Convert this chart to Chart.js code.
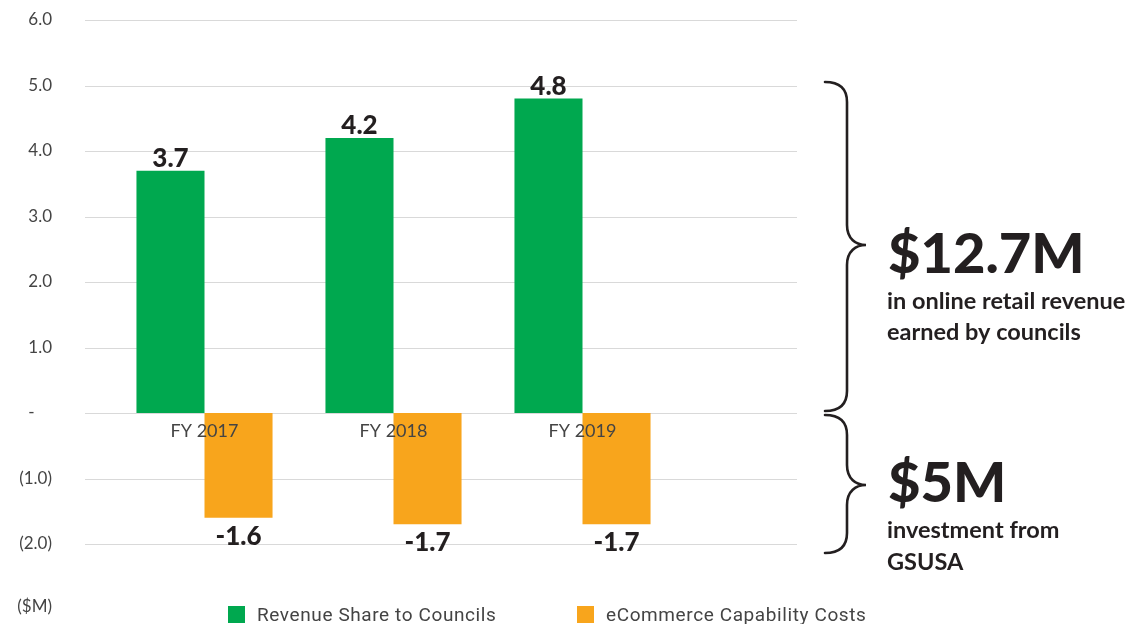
<!DOCTYPE html>
<html>
<head>
<meta charset="utf-8">
<script src="https://cdn.jsdelivr.net/npm/chart.js@4"></script>
<style>
  html, body { margin: 0; padding: 0; background: #fff; }
  #wrap { position: relative; width: 1132px; height: 624px; }
  .legend-item { position: absolute; top: 603px; display: flex; align-items: center;
    font-family: Roboto, sans-serif; font-size: 19px; letter-spacing: 0.6px; color: #444; white-space: nowrap; }
  .legend-box { width: 17px; height: 17px; margin-right: 12px; }
</style>
</head>
<body>
<div id="wrap">
  <canvas id="barChart" width="1132" height="624"></canvas>
  <div id="legend"></div>
</div>
<script>
const years = ['FY 2017', 'FY 2018', 'FY 2019'];
const revenueShare = [3.7, 4.2, 4.8];
const capabilityCosts = [-1.6, -1.7, -1.7];
const seriesNames = ['Revenue Share to Councils', 'eCommerce Capability Costs'];
const seriesColors = ['#00a84f', '#f8a51c'];
const legendLeft = [228, 577];

const ink = '#231f20';

// horizontal grid lines, a bit wider than the bar area like the original
const gridLines = {
  id: 'gridLines',
  beforeDatasetsDraw(chart) {
    const ctx = chart.ctx;
    const y = chart.scales.y;
    ctx.save();
    ctx.strokeStyle = '#d9d9d9';
    ctx.lineWidth = 1;
    y.ticks.forEach(t => {
      const py = Math.round(y.getPixelForValue(t.value)) + 0.5;
      ctx.beginPath();
      ctx.moveTo(85, py);
      ctx.lineTo(797, py);
      ctx.stroke();
    });
    ctx.restore();
  }
};

const barValues = {
  id: 'barValues',
  afterDatasetsDraw(chart) {
    const ctx = chart.ctx;
    ctx.save();
    ctx.font = '900 26px Lato';
    ctx.fillStyle = ink;
    ctx.textAlign = 'center';
    ctx.textBaseline = 'alphabetic';
    chart.data.datasets.forEach((ds, i) => {
      chart.getDatasetMeta(i).data.forEach((bar, j) => {
        const v = ds.data[j];
        ctx.fillText(v.toFixed(1), bar.x, v >= 0 ? bar.y - 4 : bar.y + 27);
      });
    });
    ctx.restore();
  }
};

function brace(ctx, x0, xs, xt, top, tip, bottom) {
  const r = 20;
  ctx.beginPath();
  ctx.moveTo(x0, top);
  ctx.bezierCurveTo(x0 + 14, top, xs, top + 6, xs, top + r);
  ctx.lineTo(xs, tip - r);
  ctx.bezierCurveTo(xs, tip - 6, xt - 10, tip, xt, tip);
  ctx.bezierCurveTo(xt - 10, tip, xs, tip + 6, xs, tip + r);
  ctx.lineTo(xs, bottom - r);
  ctx.bezierCurveTo(xs, bottom - 6, x0 + 14, bottom, x0, bottom);
  ctx.stroke();
}

const notes = {
  id: 'notes',
  afterDraw(chart) {
    const ctx = chart.ctx;
    ctx.save();
    ctx.fillStyle = '#444';
    ctx.font = '17px Lato';
    ctx.textAlign = 'right';
    ctx.fillText('($M)', 52, 612);

    ctx.strokeStyle = ink;
    ctx.lineWidth = 2.6;
    ctx.lineCap = 'round';
    brace(ctx, 825, 847, 866, 82, 245, 411);
    brace(ctx, 825, 847, 866, 415, 485, 553);

    ctx.fillStyle = ink;
    ctx.textAlign = 'left';
    ctx.font = '900 56px Lato';
    ctx.fillText('$12.7M', 888, 273);
    ctx.fillText('$5M', 888, 502);
    ctx.font = '700 23.5px Lato';
    ctx.fillText('in online retail revenue', 887, 309);
    ctx.fillText('earned by councils', 887, 340);
    ctx.fillText('investment from', 887, 538);
    ctx.fillText('GSUSA', 887, 570);
    ctx.restore();
  }
};

const chart = new Chart(document.getElementById('barChart').getContext('2d'), {
  type: 'bar',
  data: {
    labels: years,
    datasets: [
      { label: seriesNames[0], data: revenueShare, backgroundColor: seriesColors[0] },
      { label: seriesNames[1], data: capabilityCosts, backgroundColor: seriesColors[1] }
    ]
  },
  options: {
    responsive: false,
    animation: false,
    layout: { padding: { left: 0, right: 455, top: 20, bottom: 80 } },
    datasets: { bar: { barPercentage: 1, categoryPercentage: 0.72 } },
    plugins: { legend: { display: false }, tooltip: { enabled: false } },
    scales: {
      x: {
        position: { y: 0 },
        grid: { display: false, drawTicks: false },
        border: { display: false },
        ticks: { z: 1, font: { family: 'Lato', size: 18 }, color: '#444', padding: 7 },
        afterFit: s => { s.height = 0; }
      },
      y: {
        min: -2,
        max: 6,
        grid: { display: false, drawTicks: false },
        border: { display: false },
        ticks: {
          stepSize: 1,
          padding: 58,
          font: { family: 'Lato', size: 17 },
          color: '#444',
          callback: v => v === 0 ? '-    ' : (v < 0 ? '(' + Math.abs(v).toFixed(1) + ')' : v.toFixed(1))
        },
        afterFit: s => { s.width = 110; s.paddingTop = 10; s.paddingBottom = 10; }
      }
    }
  },
  plugins: [gridLines, barValues, notes]
});

// legend built from the datasets
const legend = document.getElementById('legend');
chart.data.datasets.forEach((ds, i) => {
  const item = document.createElement('div');
  item.className = 'legend-item';
  item.style.left = legendLeft[i] + 'px';
  item.innerHTML = '<span class="legend-box" style="background:' + ds.backgroundColor + '"></span>' + ds.label;
  legend.appendChild(item);
});
</script>
</body>
</html>
